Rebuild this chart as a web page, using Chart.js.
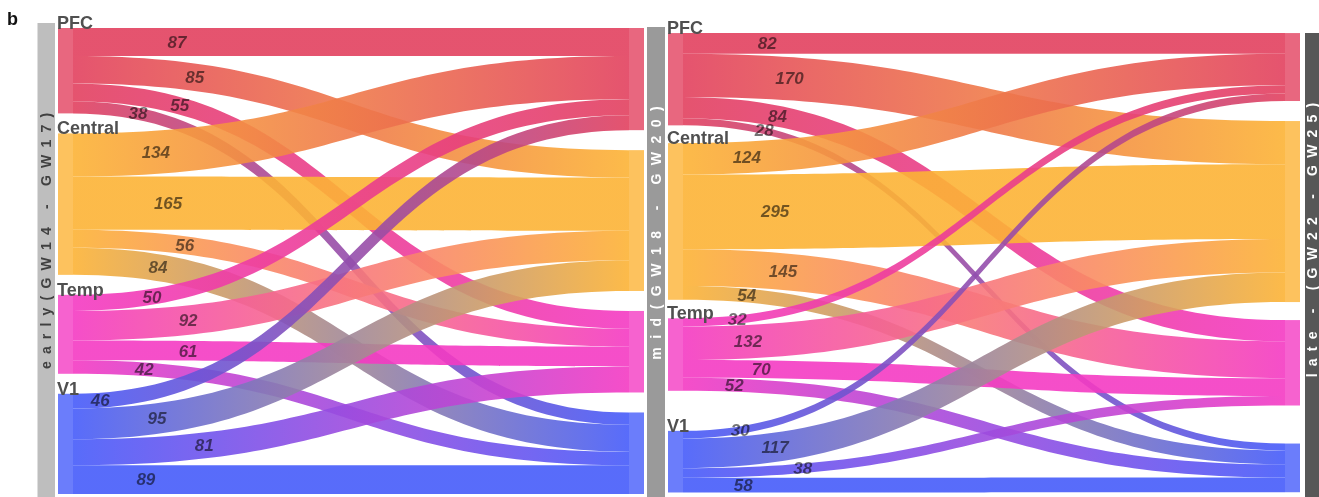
<!DOCTYPE html>
<html>
<head>
<meta charset="utf-8">
<script src="https://cdn.jsdelivr.net/npm/chart.js@4.4.0/dist/chart.umd.min.js"></script>
<style>
  body { margin: 0; background: #fff; }
  #wrap { width: 1319px; height: 497px; }
</style>
</head>
<body>
<div id="wrap"><canvas id="myChart" width="1319" height="497"></canvas></div>
<script>
var regions = ['PFC', 'Central', 'Temp', 'V1'];
var stageLabels = ['early(GW14 - GW17)', 'mid(GW18 - GW20)', 'late - (GW22 - GW25)'];

// rows = source region, columns = target region (same order as regions)
var earlyToMid = [
    [87, 85, 55, 38],
    [134, 165, 56, 84],
    [50, 92, 61, 42],
    [46, 95, 81, 89]
];
var midToLate = [
    [82, 170, 84, 28],
    [124, 295, 145, 54],
    [32, 132, 70, 52],
    [30, 117, 38, 58]
];

// styling
var regionColors = [[226, 65, 95], [252, 179, 54], [244, 59, 195], [70, 92, 250]];
var FONT = '"Liberation Sans", Arial, sans-serif';

// layout: node columns (x scale units), gaps between nodes (flow units), label spots along links
var panels = [
    {
        flows: earlyToMid, axis: 'yL',
        srcX: [58, 73], tgtX: [629, 644],
        srcGaps: [62, 62, 62], tgtGaps: [62, 62, 62],
        labelAt: [
            [0.187, 0.219, 0.192, 0.117],
            [0.149, 0.171, 0.201, 0.153],
            [0.142, 0.207, 0.207, 0.128],
            [0.049, 0.151, 0.236, 0.131]
        ]
    },
    {
        flows: midToLate, axis: 'yR',
        srcX: [668, 683], tgtX: [1285, 1300],
        srcGaps: [70, 73, 158], tgtGaps: [79, 71, 150],
        labelAt: [
            [0.140, 0.177, 0.157, 0.135],
            [0.106, 0.153, 0.166, 0.106],
            [0.090, 0.108, 0.130, 0.085],
            [0.095, 0.153, 0.199, 0.100]
        ]
    }
];

var stageBars = [
    { x: [37.5, 55], top: 23, fill: '#bebebe', color: '#404040', cy: 241, spacing: 7.2 },
    { x: [647, 665], top: 27, fill: '#9a9a9a', color: '#ffffff', cy: 233, spacing: 8.5 },
    { x: [1305, 1319], top: 33, fill: '#575757', color: '#ffffff', cy: 240, spacing: 7.2 }
];

function sum(arr) {
    return arr.reduce(function (a, b) { return a + b; }, 0);
}

function rgba(c, a) {
    return 'rgba(' + c[0] + ',' + c[1] + ',' + c[2] + ',' + a + ')';
}

function nodeSpans(totals, gaps) {
    var spans = [], pos = 0;
    totals.forEach(function (t, i) {
        spans.push([pos, pos + t]);
        pos += t + (gaps[i] || 0);
    });
    return spans;
}

// horizontal sankey link: x(u) = 1.5u - 1.5u^2 + u^3 (as fraction), solve for u
function paramForX(t) {
    var lo = 0, hi = 1;
    for (var k = 0; k < 40; k++) {
        var m = (lo + hi) / 2;
        var f = 1.5 * m - 1.5 * m * m + m * m * m;
        if (f < t) lo = m; else hi = m;
    }
    return (lo + hi) / 2;
}

function drawPanel(chart, p) {
    var ctx = chart.ctx, xs = chart.scales.x, ys = chart.scales[p.axis];
    var outT = p.flows.map(sum);
    var inT = regions.map(function (_, j) { return sum(p.flows.map(function (r) { return r[j]; })); });
    var srcSpans = nodeSpans(outT, p.srcGaps);
    var tgtSpans = nodeSpans(inT, p.tgtGaps);
    var x0 = xs.getPixelForValue(p.srcX[1]);
    var x1 = xs.getPixelForValue(p.tgtX[0]);
    var xm = (x0 + x1) / 2;
    var inOff = inT.map(function () { return 0; });
    var links = [];

    p.flows.forEach(function (row, i) {
        var outOff = srcSpans[i][0];
        row.forEach(function (v, j) {
            var a0 = outOff, b0 = outOff + v;
            outOff = b0;
            var a1 = tgtSpans[j][0] + inOff[j], b1 = a1 + v;
            inOff[j] += v;
            links.push({
                i: i, j: j, v: v,
                y0t: ys.getPixelForValue(a0), y0b: ys.getPixelForValue(b0),
                y1t: ys.getPixelForValue(a1), y1b: ys.getPixelForValue(b1)
            });
        });
    });

    // ribbons
    links.forEach(function (l) {
        var g = ctx.createLinearGradient(x0, 0, x1, 0);
        g.addColorStop(0, rgba(regionColors[l.i], 0.9));
        g.addColorStop(1, rgba(regionColors[l.j], 0.9));
        ctx.beginPath();
        ctx.moveTo(x0, l.y0t);
        ctx.bezierCurveTo(xm, l.y0t, xm, l.y1t, x1, l.y1t);
        ctx.lineTo(x1, l.y1b);
        ctx.bezierCurveTo(xm, l.y1b, xm, l.y0b, x0, l.y0b);
        ctx.closePath();
        ctx.fillStyle = g;
        ctx.fill();
    });

    // node boxes
    [[p.srcX, srcSpans], [p.tgtX, tgtSpans]].forEach(function (col) {
        var left = xs.getPixelForValue(col[0][0]), right = xs.getPixelForValue(col[0][1]);
        col[1].forEach(function (s, k) {
            var top = ys.getPixelForValue(s[0]), bot = ys.getPixelForValue(s[1]);
            ctx.fillStyle = rgba(regionColors[k], 0.8);
            ctx.fillRect(left, top, right - left, bot - top);
        });
    });

    // node names (source side)
    ctx.font = 'bold 18px ' + FONT;
    ctx.fillStyle = '#505050';
    ctx.textAlign = 'left';
    ctx.textBaseline = 'alphabetic';
    srcSpans.forEach(function (s, k) {
        ctx.fillText(regions[k], xs.getPixelForValue(p.srcX[0]) - 1, ys.getPixelForValue(s[0]) + 1);
    });

    // flow values
    ctx.font = 'italic bold 17px ' + FONT;
    ctx.fillStyle = 'rgba(0,0,0,0.55)';
    ctx.textAlign = 'center';
    ctx.textBaseline = 'middle';
    links.forEach(function (l) {
        var t = p.labelAt[l.i][l.j];
        var u = paramForX(t);
        var c0 = (l.y0t + l.y0b) / 2, c1 = (l.y1t + l.y1b) / 2;
        var yc = c0 + (c1 - c0) * (3 * u * u - 2 * u * u * u);
        ctx.fillText(String(l.v), x0 + t * (x1 - x0), yc + 1);
    });
}

function drawVerticalText(ctx, text, cx, cy, spacing) {
    var chars = text.split('');
    var widths = chars.map(function (ch) { return ctx.measureText(ch).width; });
    var total = sum(widths) + spacing * (chars.length - 1);
    ctx.save();
    ctx.translate(cx, cy);
    ctx.rotate(-Math.PI / 2);
    ctx.textAlign = 'left';
    ctx.textBaseline = 'middle';
    var pos = -total / 2;
    chars.forEach(function (ch, k) {
        ctx.fillText(ch, pos, 0);
        pos += widths[k] + spacing;
    });
    ctx.restore();
}

var sankeyPlugin = {
    id: 'sankey',
    afterDraw: function (chart) {
        var ctx = chart.ctx, xs = chart.scales.x;
        ctx.save();

        stageBars.forEach(function (b, k) {
            var left = xs.getPixelForValue(b.x[0]), right = xs.getPixelForValue(b.x[1]);
            ctx.fillStyle = b.fill;
            ctx.fillRect(left, b.top, right - left, chart.height - b.top);
        });

        panels.forEach(function (p) { drawPanel(chart, p); });

        ctx.font = 'bold 14px ' + FONT;
        stageBars.forEach(function (b, k) {
            var left = xs.getPixelForValue(b.x[0]), right = xs.getPixelForValue(b.x[1]);
            ctx.fillStyle = b.color;
            drawVerticalText(ctx, stageLabels[k], (left + right) / 2 + 1, b.cy, b.spacing);
        });

        ctx.font = 'bold 18px ' + FONT;
        ctx.fillStyle = '#111';
        ctx.textAlign = 'left';
        ctx.textBaseline = 'alphabetic';
        ctx.fillText('b', 7, 25);
        ctx.restore();
    }
};

var totalLeft = sum(earlyToMid.map(sum));
var ctx1 = document.getElementById('myChart').getContext('2d');
var myChart = new Chart(ctx1, {
    type: 'scatter',
    data: { datasets: [] },
    options: {
        responsive: false,
        animation: false,
        devicePixelRatio: 1,
        layout: { padding: { top: 28, bottom: 3, left: 0, right: 0 } },
        scales: {
            x: { type: 'linear', min: 0, max: 1319, display: false },
            yL: { type: 'linear', axis: 'y', reverse: true, min: 0, max: totalLeft + 186, display: false },
            yR: { type: 'linear', axis: 'y', reverse: true, min: -20, max: 1818, display: false }
        },
        plugins: {
            legend: { display: false },
            tooltip: { enabled: false }
        }
    },
    plugins: [sankeyPlugin]
});
</script>
</body>
</html>
